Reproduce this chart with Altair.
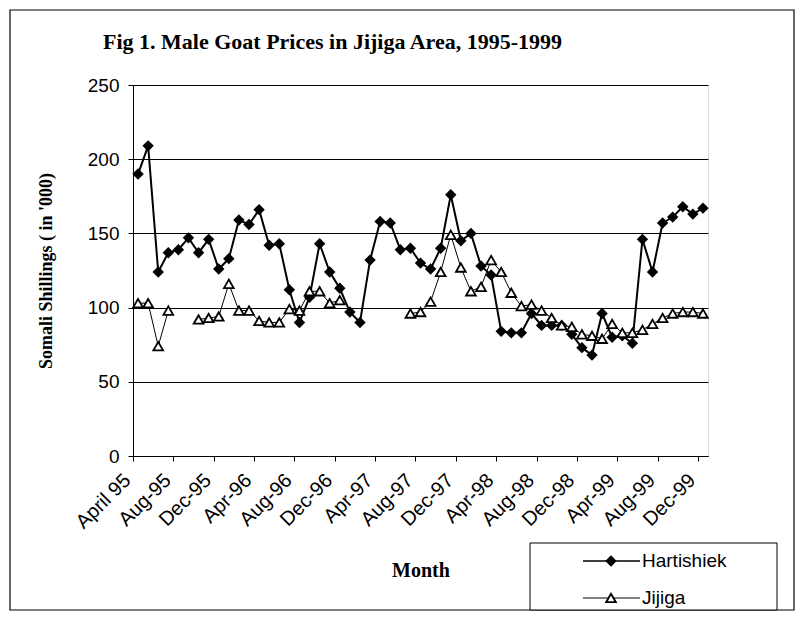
import json
import altair as alt
import pandas as pd

# ---------------- data ----------------
MONTH_NAMES = ["Jan", "Feb", "Mar", "Apr", "May", "Jun",
               "Jul", "Aug", "Sep", "Oct", "Nov", "Dec"]
MONTHS = []
for yr in range(1995, 2000):
    for m in range(12):
        if yr == 1995 and m < 3:
            continue
        MONTHS.append(f"{MONTH_NAMES[m]}-{str(yr)[2:]}")
MONTHS[0] = "April 95"

TICK_LABELS = ["April 95", "Aug-95", "Dec-95", "Apr-96", "Aug-96", "Dec-96",
               "Apr-97", "Aug-97", "Dec-97", "Apr-98", "Aug-98", "Dec-98",
               "Apr-99", "Aug-99", "Dec-99"]

HARTISHIEK = [190, 209, 124, 137, 139, 147, 137, 146, 126, 133,
              159, 156, 166, 142, 143, 112, 90, 107, 143, 124,
              113, 97, 90, 132, 158, 157, 139, 140, 130, 126,
              140, 176, 145, 150, 128, 122, 84, 83, 83, 96,
              88, 88, 88, 82, 73, 68, 96, 80, 81, 76,
              146, 124, 157, 161, 168, 163, 167]

JIJIGA = [103, 103, 74, 98, None, None, 92, 93, 94, 116,
          98, 98, 91, 90, 90, 99, 98, 111, 111, 103,
          105, None, None, None, None, None, None, 96, 97, 104,
          124, 149, 127, 111, 114, 132, 124, 110, 101, 102,
          98, 93, 88, 87, 82, 81, 79, 89, 83, 83,
          85, 89, 93, 96, 97, 97, 96]

SERIES = ["Hartishiek", "Jijiga"]

rows = []
for name, vals in zip(SERIES, [HARTISHIEK, JIJIGA]):
    seg = 0
    prev_none = False
    for i, v in enumerate(vals):
        if v is None:
            prev_none = True
            continue
        if prev_none:
            seg += 1
            prev_none = False
        rows.append({"idx": i, "month": MONTHS[i], "series": name,
                     "value": v, "seg": f"{name}-{seg}"})
df = pd.DataFrame(rows)

# ---------------- layout ----------------
W, H = 575, 371
N = len(MONTHS)
STEP = W / N
SERIF = "Liberation Serif"
SANS = "Liberation Sans"

label_expr = ("(datum.value + 0.5) % 4 == 0 ? " + json.dumps(TICK_LABELS)
              + "[(datum.value + 0.5) / 4] : ''")

x_enc = alt.X(
    "idx:Q",
    scale=alt.Scale(domain=[-0.5, N - 0.5], nice=False, zero=False),
    axis=alt.Axis(
        values=[i - 0.5 for i in range(N + 1)],
        labelExpr=label_expr,
        labelOffset=STEP / 2 - 11,
        labelAngle=-45,
        labelAlign="right",
        labelBaseline="middle",
        labelPadding=16,
        labelOverlap=False,
        labelFlush=False,
        labelBound=False,
        labelFont=SANS,
        labelFontSize=20,
        labelColor="black",
        tickSize=5,
        tickColor="black",
        domainColor="black",
        grid=False,
        title="Month",
        titleFont=SERIF,
        titleFontWeight="bold",
        titleFontSize=20,
        titleColor="black",
        titleX=W / 2,
        titleY=114,
        titleAlign="center",
        titleBaseline="middle",
    ),
)
y_enc = alt.Y(
    "value:Q",
    scale=alt.Scale(domain=[0, 250], nice=False),
    axis=alt.Axis(
        values=[0, 50, 100, 150, 200, 250],
        grid=True,
        gridColor="black",
        gridOpacity=1,
        gridWidth=1,
        labelFont=SANS,
        labelFontSize=19,
        labelColor="black",
        labelPadding=9,
        tickSize=5,
        tickColor="black",
        domainColor="black",
        title="Somali Shillings ( in '000)",
        titleFont=SERIF,
        titleFontWeight="bold",
        titleFontSize=18,
        titleColor="black",
        titleAngle=270,
        titleX=-87,
        titleY=H / 2,
        titleAlign="center",
        titleBaseline="middle",
    ),
)

hart = df[df.series == "Hartishiek"]
jij = df[df.series == "Jijiga"]

line_h = alt.Chart(hart).mark_line(color="black", strokeWidth=2).encode(
    x=x_enc, y=y_enc, detail="seg:N", order="idx:Q")
line_j = alt.Chart(jij).mark_line(color="black", strokeWidth=1).encode(
    x="idx:Q", y="value:Q", detail="seg:N", order="idx:Q")
pts_h = alt.Chart(hart).mark_point(shape="diamond", filled=True, color="black",
                                   size=130, opacity=1).encode(
    x="idx:Q", y="value:Q")
pts_j = alt.Chart(jij).mark_point(shape="triangle-up", filled=True, fill="white",
                                  stroke="black", strokeWidth=1.8, size=95,
                                  opacity=1).encode(
    x="idx:Q", y="value:Q")

# outer frame
frame = alt.Chart(pd.DataFrame({"a": [0]})).mark_rect(
    fill=None, stroke="black", strokeWidth=1.2).encode(
    x=alt.value(-123), x2=alt.value(W + 86), y=alt.value(-75), y2=alt.value(H + 154))

title = alt.Chart(pd.DataFrame({"t": ["Fig 1. Male Goat Prices in Jijiga Area, 1995-1999"]})).mark_text(
    align="left", baseline="alphabetic", font=SERIF, fontWeight="bold",
    fontSize=22, color="black").encode(
    x=alt.value(-30), y=alt.value(-36), text="t:N")

# legend
LEG_X0, LEG_X1 = 397, 644
LEG_Y0, LEG_Y1 = 458, H + 154
leg_box = alt.Chart(pd.DataFrame({"a": [0]})).mark_rect(
    fill="white", stroke="black", strokeWidth=1).encode(
    x=alt.value(LEG_X0), x2=alt.value(LEG_X1), y=alt.value(LEG_Y0), y2=alt.value(LEG_Y1))

legend_layers = []
for k, (name, shape, fill, lw) in enumerate([
        ("Hartishiek", "diamond", "black", 1.5),
        ("Jijiga", "triangle-up", "white", 1)]):
    ry = 476 + 37 * k
    d = pd.DataFrame({"name": [name]})
    legend_layers.append(alt.Chart(d).mark_rule(color="black", strokeWidth=lw).encode(
        x=alt.value(450), x2=alt.value(507), y=alt.value(ry)))
    legend_layers.append(alt.Chart(d).mark_point(
        shape=shape, filled=True, fill=fill, stroke="black",
        strokeWidth=1.8 if shape != "diamond" else 0,
        size=130 if shape == "diamond" else 95, opacity=1).encode(
        x=alt.value(478), y=alt.value(ry)))
    legend_layers.append(alt.Chart(d).mark_text(
        align="left", baseline="middle", font=SANS, fontSize=19, color="black").encode(
        x=alt.value(509), y=alt.value(ry), text="name:N"))

chart = alt.layer(
    frame, line_h, line_j, pts_h, pts_j, title, leg_box, *legend_layers
).properties(
    width=W, height=H,
    autosize=alt.AutoSizeParams(type="none"),
    padding={"left": 125, "top": 77, "right": 90, "bottom": 157},
).configure_view(
    stroke="black", strokeWidth=1
).configure(background="white")

chart.save("out.html", embed_options={"renderer": "svg", "actions": False})
